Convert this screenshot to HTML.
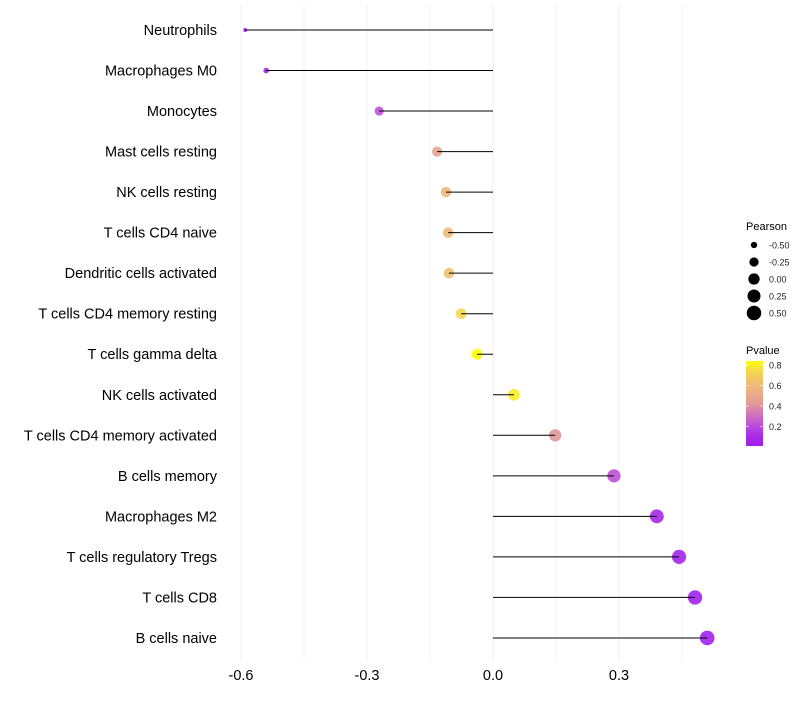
<!DOCTYPE html>
<html><head><meta charset="utf-8"><style>
body{margin:0;background:#fff;font-family:"Liberation Sans",sans-serif}
</style></head><body>
<svg id="chart" width="800" height="700" xmlns="http://www.w3.org/2000/svg"></svg>
<script>
const categories=["Neutrophils","Macrophages M0","Monocytes","Mast cells resting","NK cells resting","T cells CD4 naive","Dendritic cells activated","T cells CD4 memory resting","T cells gamma delta","NK cells activated","T cells CD4 memory activated","B cells memory","Macrophages M2","T cells regulatory  Tregs ","T cells CD8","B cells naive"];
const pearson=[-0.590,-0.540,-0.271,-0.133,-0.112,-0.107,-0.105,-0.076,-0.038,0.050,0.148,0.288,0.390,0.443,0.481,0.510];
const pvalue=[0.03,0.04,0.22,0.48,0.6,0.6,0.63,0.74,0.85,0.8,0.42,0.22,0.1,0.06,0.03,0.02];
const xTicks=[-0.6,-0.3,0.0,0.3];
const xTickLabels=["-0.6","-0.3","0.0","0.3"];
const sizeLegend=[-0.5,-0.25,0,0.25,0.5];
const colorLegend=[0.2,0.4,0.6,0.8];

const svg=document.getElementById('chart');
const NS="http://www.w3.org/2000/svg";
function mk(t,a,p){const e=document.createElementNS(NS,t);for(const k in a)e.setAttribute(k,a[k]);(p||svg).appendChild(e);return e;}
const x=v=>493+v*420;
const y=i=>30+i*40.53;
const r=v=>2+5.3*Math.pow(Math.max(0,(v+0.59)/1.1),0.6);
const pmin=0.0,pmax=0.85;
const cstops=[[0,[160,32,240]],[0.1,[168,40,232]],[0.22,[192,80,216]],[0.42,[224,152,152]],[0.5,[234,168,144]],[0.6,[240,184,120]],[0.74,[245,216,80]],[0.85,[255,255,0]]];
function col(p){
 p=Math.min(pmax,Math.max(pmin,p));
 for(let i=1;i<cstops.length;i++){if(p<=cstops[i][0]){const a=cstops[i-1],b=cstops[i];const t=(p-a[0])/(b[0]-a[0]);
  const c=a[1].map((v,k)=>Math.round(v+(b[1][k]-v)*t));return `rgb(${c[0]},${c[1]},${c[2]})`;}}
 return 'rgb(255,255,0)';
}

[-0.6,-0.45,-0.3,-0.15,0,0.15,0.3,0.45].forEach(v=>{
 const g=mk('line',{x1:x(v),x2:x(v),y1:5,y2:662,stroke:'#f0f0f0','stroke-width':1});
 
 
});
xTicks.forEach((v,i)=>{
 const t=mk('text',{x:x(v),y:680,'text-anchor':'middle','font-size':14.5,fill:'#000'});
 t.textContent=xTickLabels[i];
 
 
});
categories.forEach((c,i)=>{
 const t=mk('text',{x:217,y:y(i)+5,'text-anchor':'end','font-size':14.5,fill:'#000'});
 t.textContent=c;
 
 
 const pt=mk('circle',{cx:x(pearson[i]),cy:y(i),r:r(pearson[i]),fill:col(pvalue[i]),'fill-opacity':0.9});
 
 
 const ln=mk('line',{x1:x(0),x2:x(pearson[i]),y1:y(i),y2:y(i),stroke:'#000','stroke-width':1});
 
 
});
const lt=mk('text',{x:746,y:230,'font-size':11,fill:'#000'});lt.textContent='Pearson';


sizeLegend.forEach((v,i)=>{
 const cy=245+i*17;
 const c=mk('circle',{cx:754,cy:cy,r:r(v),fill:'#000'});
 
 
 const t=mk('text',{x:769,y:cy+3.5,'font-size':9,fill:'#222'});t.textContent=v.toFixed(2);
 
 
});
const ct=mk('text',{x:746,y:354,'font-size':11,fill:'#000'});ct.textContent='Pvalue';


const defs=mk('defs',{});
const gr=mk('linearGradient',{id:'pg',x1:0,y1:1,x2:0,y2:0},defs);
for(let s=0;s<=20;s++){mk('stop',{offset:s/20,'stop-color':col(0.01+s/20*(0.84-0.01))},gr);}
const barTop=361,barBot=446,scl=(barBot-barTop)/(0.84-0.01);
const bar=mk('rect',{x:746,y:barTop,width:17,height:barBot-barTop,fill:'url(#pg)'});


colorLegend.forEach(v=>{
 const yy=barBot-(v-0.01)*scl;
 mk('line',{x1:746,x2:749,y1:yy,y2:yy,stroke:'#fff','stroke-opacity':0.6});
 mk('line',{x1:760,x2:763,y1:yy,y2:yy,stroke:'#fff','stroke-opacity':0.6});
 const t=mk('text',{x:769,y:yy+3.5,'font-size':9,fill:'#222'});t.textContent=v.toFixed(1);
 
 
});
</script>
</body></html>
